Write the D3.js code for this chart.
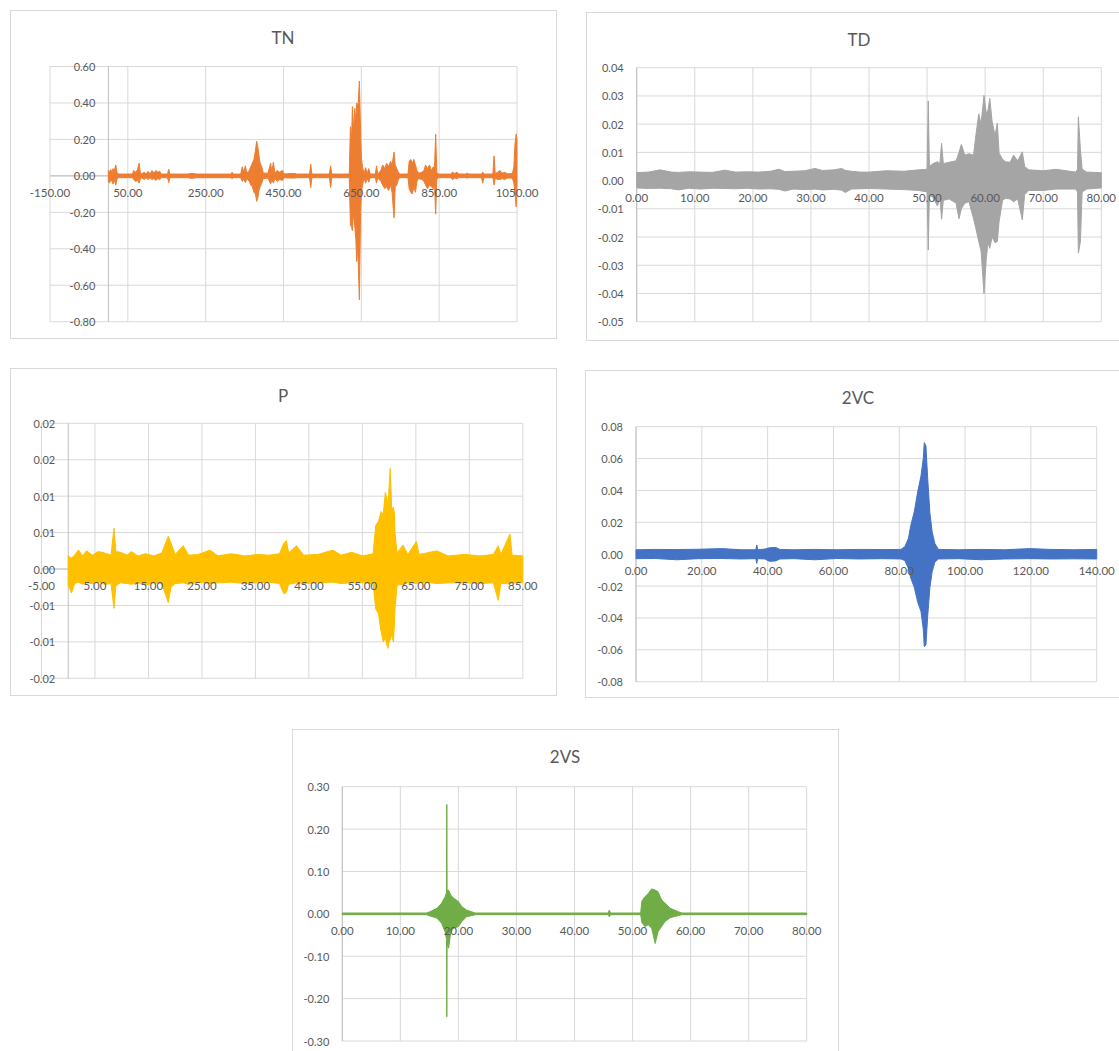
<!DOCTYPE html>
<html>
<head>
<meta charset="utf-8">
<script src="https://cdn.jsdelivr.net/npm/d3@7"></script>
<style>
  body { margin: 0; background: #fff; }
  svg { display: block; }
  text { font-family: Lato, "Open Sans", sans-serif; fill: #595959; }
</style>
</head>
<body>
<svg id="canvas"></svg>
<script>
// ---- TN (envelope: x, upper, lower) ----
const tnX  = [0,3,6,9,12,15,19,22,25,62,65,70,75,79,82,85,92,97,102,107,112,117,122,127,132,136,152,155,158,205,210,222,226,315,318,321,340,344,348,352,356,362,366,370,374,378,381,384,387,390,394,398,410,417,420,424,428,434,440,447,452,468,480,484,517,520,523,568,571,574,619,622,625,627,630,633,636,638,640,642,645,648,650,653,657,661,665,669,673,686,689,692,700,705,710,715,720,725,729,734,737,741,746,750,770,773,777,781,785,789,793,797,806,811,815,820,825,830,835,838,841,844,848,880,884,890,896,900,918,922,926,959,962,965,988,991,994,1000,1006,1012,1018,1025,1038,1042,1045,1048,1050];
const tnHi = [0.03,0.02,0.035,0.02,0.04,0.025,0.06,0.02,0.01,0.01,0.03,0.02,0.035,0.07,0.02,0.01,0.02,0.01,0.025,0.01,0.03,0.015,0.03,0.02,0.025,0.01,0.01,0.037,0.01,0.01,0.013,0.012,0.01,0.01,0.02,0.01,0.01,0.05,0.02,0.055,0.015,0.03,0.05,0.07,0.09,0.14,0.19,0.16,0.11,0.07,0.05,0.015,0.015,0.07,0.02,0.075,0.015,0.03,0.02,0.03,0.01,0.013,0.013,0.01,0.01,0.064,0.01,0.01,0.055,0.01,0.01,0.27,0.2,0.38,0.25,0.37,0.3,0.4,0.38,0.4,0.52,0.25,0.1,0.05,0.012,0.045,0.012,0.04,0.01,0.01,0.055,0.01,0.03,0.06,0.04,0.07,0.05,0.08,0.06,0.13,0.06,0.04,0.015,0.01,0.01,0.08,0.09,0.07,0.09,0.06,0.03,0.015,0.02,0.03,0.06,0.04,0.06,0.03,0.05,0.04,0.23,0.02,0.01,0.01,0.02,0.013,0.02,0.01,0.01,0.015,0.01,0.01,0.02,0.01,0.01,0.11,0.012,0.02,0.03,0.015,0.02,0.012,0.012,0.05,0.18,0.23,0.2];
const tnLo = [-0.03,-0.04,-0.02,-0.03,-0.045,-0.02,-0.05,-0.02,-0.01,-0.01,-0.02,-0.03,-0.025,-0.04,-0.02,-0.01,-0.02,-0.01,-0.02,-0.01,-0.02,-0.015,-0.025,-0.015,-0.02,-0.01,-0.01,-0.037,-0.01,-0.01,-0.013,-0.012,-0.01,-0.01,-0.015,-0.01,-0.01,-0.03,-0.02,-0.037,-0.015,-0.03,-0.05,-0.06,-0.09,-0.1,-0.14,-0.12,-0.08,-0.06,-0.04,-0.015,-0.012,-0.045,-0.02,-0.04,-0.015,-0.03,-0.02,-0.025,-0.01,-0.012,-0.012,-0.01,-0.01,-0.064,-0.01,-0.01,-0.064,-0.01,-0.01,-0.27,-0.28,-0.3,-0.2,-0.27,-0.35,-0.47,-0.4,-0.47,-0.68,-0.2,-0.1,-0.05,-0.012,-0.04,-0.012,-0.035,-0.01,-0.01,-0.04,-0.01,-0.03,-0.05,-0.07,-0.06,-0.08,-0.05,-0.09,-0.23,-0.06,-0.05,-0.015,-0.01,-0.01,-0.07,-0.09,-0.1,-0.06,-0.09,-0.03,-0.015,-0.02,-0.03,-0.05,-0.07,-0.05,-0.06,-0.07,-0.04,-0.21,-0.02,-0.01,-0.01,-0.02,-0.012,-0.015,-0.01,-0.01,-0.012,-0.01,-0.01,-0.04,-0.01,-0.01,-0.05,-0.012,-0.02,-0.02,-0.015,-0.02,-0.012,-0.012,-0.04,-0.1,-0.17,-0.05];
const tnXTicks = [-150, 50, 250, 450, 650, 850, 1050];
const tnXLabels = ["-150.00", "50.00", "250.00", "450.00", "650.00", "850.00", "1050.00"];
const tnYTicks = [0.6, 0.4, 0.2, 0, -0.2, -0.4, -0.6, -0.8];
const tnYLabels = ["0.60", "0.40", "0.20", "0.00", "-0.20", "-0.40", "-0.60", "-0.80"];

// ---- TD ----
const tdX  = [0,2,4,6,7.2,9,11,13,15.2,17,19,21,23,24.5,25.5,27,29,30.7,32,34,35.3,35.9,37,38.5,40,43,46,48.5,50.0,50.2,50.4,51.0,51.8,52.2,52.5,52.8,53.8,55.0,55.5,55.9,56.5,57.2,58.0,58.4,58.9,59.3,59.8,60.2,60.5,60.8,61.2,61.7,62.1,62.4,63.0,63.5,64.3,64.9,65.6,66.4,66.8,67.5,70,72.2,75.6,75.9,76.05,76.4,76.7,77.5,80];
const tdHi = [0.0028,0.003,0.0038,0.003,0.0029,0.0031,0.003,0.0029,0.0037,0.003,0.0031,0.003,0.0033,0.004,0.0032,0.0033,0.0035,0.0043,0.0036,0.0038,0.0043,0.0036,0.0033,0.003,0.003,0.0035,0.0033,0.0038,0.004,0.0282,0.005,0.006,0.0067,0.006,0.0132,0.006,0.0065,0.007,0.01,0.0128,0.009,0.0095,0.009,0.016,0.0236,0.02,0.0302,0.0238,0.025,0.0291,0.0209,0.016,0.0203,0.0097,0.0075,0.0067,0.0065,0.009,0.007,0.0102,0.005,0.0038,0.0035,0.004,0.003,0.004,0.0226,0.011,0.004,0.003,0.0028];
const tdLo = [-0.0026,-0.0028,-0.0027,-0.0029,-0.0033,-0.0027,-0.003,-0.0027,-0.0028,-0.0029,-0.0027,-0.003,-0.0029,-0.0031,-0.0037,-0.003,-0.0032,-0.003,-0.0033,-0.0031,-0.0034,-0.0042,-0.003,-0.0029,-0.0028,-0.003,-0.0032,-0.0035,-0.004,-0.0246,-0.005,-0.006,-0.009,-0.006,-0.0137,-0.007,-0.0065,-0.008,-0.0135,-0.01,-0.008,-0.0075,-0.0135,-0.017,-0.0216,-0.025,-0.04,-0.0275,-0.022,-0.024,-0.02,-0.022,-0.0216,-0.0145,-0.007,-0.0063,-0.0065,-0.0075,-0.0065,-0.0139,-0.005,-0.0035,-0.0035,-0.003,-0.003,-0.004,-0.0257,-0.0216,-0.004,-0.003,-0.0026];
const tdXTicks = [0, 10, 20, 30, 40, 50, 60, 70, 80];
const tdXLabels = ["0.00", "10.00", "20.00", "30.00", "40.00", "50.00", "60.00", "70.00", "80.00"];
const tdYTicks = [0.04, 0.03, 0.02, 0.01, 0, -0.01, -0.02, -0.03, -0.04, -0.05];
const tdYLabels = ["0.04", "0.03", "0.02", "0.01", "0.00", "-0.01", "-0.02", "-0.03", "-0.04", "-0.05"];

// ---- P ----
const pX  = [0,0.6,1.2,1.9,2.7,3.4,4.5,5.6,6.8,8.0,8.55,8.9,9.8,11.0,11.8,13.0,14.5,16.0,17.5,18.7,19.2,20.0,21.5,22.5,24.3,26.5,28.0,30.5,33.0,35.5,37.5,39.5,40.3,40.8,41.2,42.7,44.0,46.7,49.5,51.0,53.0,55.0,57.0,57.5,58.0,58.5,58.9,59.3,59.6,59.8,59.9,60.2,60.5,60.8,61.0,61.1,61.5,62.6,63.5,65.1,65.6,67.0,68.9,71.0,74.2,77.0,79.5,80.4,80.9,82.6,83.0,85];
const pHi = [0.0018,0.0015,0.0019,0.0026,0.0018,0.0025,0.0019,0.0024,0.0022,0.0019,0.0056,0.0024,0.0023,0.0019,0.0024,0.0018,0.0021,0.0018,0.0022,0.0045,0.0036,0.002,0.0032,0.0019,0.002,0.0026,0.0018,0.0021,0.0018,0.002,0.0019,0.0021,0.0035,0.0039,0.0022,0.0032,0.0019,0.002,0.0026,0.0019,0.0023,0.0018,0.0021,0.006,0.0065,0.0079,0.0075,0.0105,0.0097,0.0085,0.0099,0.0138,0.0081,0.0085,0.0076,0.005,0.0022,0.0033,0.002,0.0038,0.002,0.0022,0.0025,0.0018,0.002,0.0018,0.002,0.0032,0.002,0.0048,0.0019,0.0018];
const pLo = [-0.0022,-0.0033,-0.002,-0.0018,-0.0021,-0.0019,-0.002,-0.0018,-0.0021,-0.002,-0.0054,-0.0023,-0.0019,-0.002,-0.0021,-0.0019,-0.0022,-0.0019,-0.002,-0.0046,-0.0025,-0.002,-0.0019,-0.0021,-0.0018,-0.002,-0.0019,-0.0018,-0.002,-0.0019,-0.0018,-0.002,-0.0034,-0.0032,-0.0021,-0.0019,-0.002,-0.0019,-0.0018,-0.002,-0.0019,-0.0019,-0.002,-0.0055,-0.0061,-0.0086,-0.01,-0.0095,-0.0105,-0.0109,-0.0102,-0.0097,-0.009,-0.01,-0.0075,-0.0054,-0.0022,-0.0021,-0.0019,-0.002,-0.0019,-0.0018,-0.002,-0.0019,-0.0019,-0.002,-0.0019,-0.0043,-0.002,-0.002,-0.0019,-0.0019];
const pXTicks = [-5, 5, 15, 25, 35, 45, 55, 65, 75, 85];
const pXLabels = ["-5.00", "5.00", "15.00", "25.00", "35.00", "45.00", "55.00", "65.00", "75.00", "85.00"];
const pYTicks = [0.02, 0.015, 0.01, 0.005, 0, -0.005, -0.01, -0.015];
const pYLabels = ["0.02", "0.02", "0.01", "0.01", "0.00", "-0.01", "-0.01", "-0.02"];

// ---- 2VC ----
const vcX  = [0,6,12.4,19,26,32,36.4,36.7,37.0,39.2,40.5,42.5,43.7,48,54.4,61,68,75,80.5,81.7,82.8,83.5,84.6,85.6,86.6,87.3,87.6,88.1,88.6,89.3,90.0,90.8,91.9,98,105,112,119.7,126,133,140];
const vcHi = [0.0028,0.003,0.0029,0.0031,0.0035,0.0028,0.0028,0.0058,0.0028,0.0032,0.004,0.0042,0.003,0.0028,0.003,0.0028,0.003,0.0029,0.003,0.0047,0.01,0.018,0.027,0.039,0.049,0.06,0.07,0.068,0.049,0.026,0.014,0.0068,0.003,0.0028,0.003,0.0028,0.0035,0.003,0.0028,0.003];
const vcLo = [-0.0028,-0.0027,-0.0035,-0.0028,-0.0027,-0.003,-0.0028,-0.0058,-0.0028,-0.003,-0.0045,-0.0042,-0.003,-0.0028,-0.0035,-0.0027,-0.003,-0.0028,-0.003,-0.004,-0.009,-0.015,-0.021,-0.03,-0.036,-0.047,-0.058,-0.057,-0.04,-0.021,-0.011,-0.005,-0.003,-0.0028,-0.0035,-0.003,-0.0028,-0.003,-0.0029,-0.003];
const vcXTicks = [0, 20, 40, 60, 80, 100, 120, 140];
const vcXLabels = ["0.00", "20.00", "40.00", "60.00", "80.00", "100.00", "120.00", "140.00"];
const vcYTicks = [0.08, 0.06, 0.04, 0.02, 0, -0.02, -0.04, -0.06, -0.08];
const vcYLabels = ["0.08", "0.06", "0.04", "0.02", "0.00", "-0.02", "-0.04", "-0.06", "-0.08"];

// ---- 2VS ----
const vsX  = [0,14.5,15.1,16.3,17.1,17.7,17.95,18.0,18.05,18.3,18.7,19.2,20.0,20.6,21.4,22.9,45.8,46.0,46.2,51.4,51.6,52.1,52.7,53.3,53.9,54.4,55.0,55.6,56.5,57.9,58.5,80];
const vsHi = [0.002,0.002,0.005,0.013,0.025,0.04,0.05,0.258,0.055,0.056,0.044,0.037,0.029,0.017,0.009,0.002,0.002,0.009,0.002,0.002,0.03,0.04,0.048,0.059,0.056,0.052,0.033,0.025,0.013,0.005,0.002,0.002];
const vsLo = [-0.002,-0.002,-0.005,-0.01,-0.022,-0.042,-0.06,-0.243,-0.07,-0.081,-0.042,-0.034,-0.03,-0.018,-0.007,-0.002,-0.002,-0.007,-0.002,-0.002,-0.02,-0.03,-0.026,-0.034,-0.07,-0.042,-0.03,-0.018,-0.009,-0.004,-0.002,-0.002];
const vsXTicks = [0, 10, 20, 30, 40, 50, 60, 70, 80];
const vsXLabels = ["0.00", "10.00", "20.00", "30.00", "40.00", "50.00", "60.00", "70.00", "80.00"];
const vsYTicks = [0.3, 0.2, 0.1, 0, -0.1, -0.2, -0.3];
const vsYLabels = ["0.30", "0.20", "0.10", "0.00", "-0.10", "-0.20", "-0.30"];

const svg = d3.select("#canvas").attr("width", 1119).attr("height", 1051);

// box = chart frame, plot = [left, top, right, bottom]
const panels = [
    { title: "TN", color: "#ED7D31", box: [10, 10, 546, 328], plot: [50, 66.5, 517, 321.7],
      xDomain: [-150, 1050], yDomain: [-0.8, 0.6], xs: tnX, hi: tnHi, lo: tnLo,
      xTicks: tnXTicks, xLabels: tnXLabels, yTicks: tnYTicks, yLabels: tnYLabels },
    { title: "TD", color: "#A5A5A5", box: [586, 12, 546, 328], plot: [636.7, 67.7, 1101.3, 321.7],
      xDomain: [0, 80], yDomain: [-0.05, 0.04], xs: tdX, hi: tdHi, lo: tdLo,
      xTicks: tdXTicks, xLabels: tdXLabels, yTicks: tdYTicks, yLabels: tdYLabels },
    { title: "P", color: "#FFC000", box: [10, 368, 546, 327], plot: [41.5, 423.3, 522.8, 678.3],
      xDomain: [-5, 85], yDomain: [-0.015, 0.02], xs: pX, hi: pHi, lo: pLo,
      xTicks: pXTicks, xLabels: pXLabels, yTicks: pYTicks, yLabels: pYLabels },
    { title: "2VC", color: "#4472C4", box: [585, 370, 546, 327], plot: [636, 426.7, 1096.7, 681.7],
      xDomain: [0, 140], yDomain: [-0.08, 0.08], xs: vcX, hi: vcHi, lo: vcLo,
      xTicks: vcXTicks, xLabels: vcXLabels, yTicks: vcYTicks, yLabels: vcYLabels },
    { title: "2VS", color: "#70AD47", box: [292, 729, 546, 340], plot: [342.3, 786.7, 806.7, 1041],
      xDomain: [0, 80], yDomain: [-0.3, 0.3], xs: vsX, hi: vsHi, lo: vsLo,
      xTicks: vsXTicks, xLabels: vsXLabels, yTicks: vsYTicks, yLabels: vsYLabels }
];

panels.forEach(p => {
    const g = svg.append("g");
    const [bx, by, bw, bh] = p.box;
    const [pl, pt, pr, pb] = p.plot;

    // chart frame
    g.append("rect")
        .attr("x", bx + 0.5).attr("y", by + 0.5)
        .attr("width", bw).attr("height", bh)
        .attr("fill", "#fff")
        .attr("stroke", "#D9D9D9");

    g.append("text")
        .attr("x", bx + bw / 2)
        .attr("y", by + 27)
        .attr("text-anchor", "middle")
        .attr("dominant-baseline", "central")
        .attr("font-size", 17)
        .text(p.title);

    const x = d3.scaleLinear().domain(p.xDomain).range([pl, pr]);
    const y = d3.scaleLinear().domain(p.yDomain).range([pb, pt]);

    // gridlines
    g.selectAll(".hgrid")
        .data(p.yTicks)
        .join("line")
        .attr("x1", pl).attr("x2", pr)
        .attr("y1", d => y(d)).attr("y2", d => y(d))
        .attr("stroke", "#D9D9D9");

    g.selectAll(".vgrid")
        .data(p.xTicks)
        .join("line")
        .attr("x1", d => x(d)).attr("x2", d => x(d))
        .attr("y1", pt).attr("y2", pb)
        .attr("stroke", "#D9D9D9");

    // axis lines crossing at zero
    g.append("line")
        .attr("x1", x(0)).attr("x2", x(0))
        .attr("y1", pt).attr("y2", pb)
        .attr("stroke", "#BFBFBF");
    g.append("line")
        .attr("x1", pl).attr("x2", pr)
        .attr("y1", y(0)).attr("y2", y(0))
        .attr("stroke", "#BFBFBF");

    // the signal, drawn as its upper / lower envelope
    const rows = p.xs.map((v, i) => ({ x: v, hi: p.hi[i], lo: p.lo[i] }));
    const area = d3.area()
        .x(d => x(d.x))
        .y0(d => y(d.lo))
        .y1(d => y(d.hi));
    g.append("path")
        .datum(rows)
        .attr("d", area)
        .attr("fill", p.color)
        .attr("stroke", p.color)
        .attr("stroke-width", 1)
        .attr("stroke-linejoin", "miter");

    // tick labels
    g.selectAll(".ylab")
        .data(p.yTicks)
        .join("text")
        .attr("x", x(0) - 13)
        .attr("y", d => y(d))
        .attr("text-anchor", "end")
        .attr("dominant-baseline", "central")
        .attr("font-size", 11)
        .text((d, i) => p.yLabels[i]);

    g.selectAll(".xlab")
        .data(p.xTicks)
        .join("text")
        .attr("x", d => x(d))
        .attr("y", y(0) + 16.5)
        .attr("text-anchor", "middle")
        .attr("dominant-baseline", "central")
        .attr("font-size", 11.5)
        .text((d, i) => p.xLabels[i]);
});
</script>
</body>
</html>
